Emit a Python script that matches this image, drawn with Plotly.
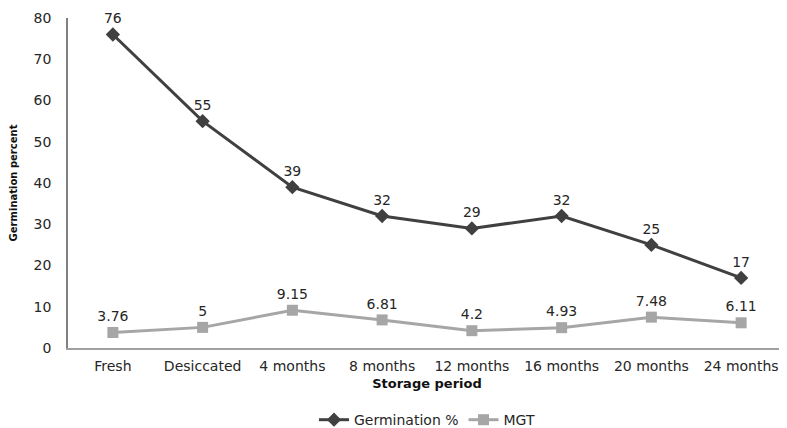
import plotly.graph_objects as go

categories = ["Fresh", "Desiccated", "4 months", "8 months", "12 months", "16 months", "20 months", "24 months"]
germination = [76, 55, 39, 32, 29, 32, 25, 17]
mgt = [3.76, 5, 9.15, 6.81, 4.2, 4.93, 7.48, 6.11]
germ_labels = ["76", "55", "39", "32", "29", "32", "25", "17"]
mgt_labels = ["3.76", "5", "9.15", "6.81", "4.2", "4.93", "7.48", "6.11"]

FONT = "DejaVu Sans"
TXT = "#262626"

fig = go.Figure()
fig.add_trace(go.Scatter(
    x=categories, y=germination, name="Germination %",
    mode="lines+markers+text", text=germ_labels, textposition="top center",
    textfont=dict(family=FONT, size=14, color=TXT), cliponaxis=False,
    line=dict(color="#404040", width=3),
    marker=dict(symbol="diamond", size=11, color="#404040"),
))
fig.add_trace(go.Scatter(
    x=categories, y=mgt, name="MGT",
    mode="lines+markers+text", text=mgt_labels, textposition="top center",
    textfont=dict(family=FONT, size=14, color=TXT), cliponaxis=False,
    line=dict(color="#A6A6A6", width=3),
    marker=dict(symbol="square", size=11, color="#A6A6A6"),
))

fig.update_layout(
    width=779, height=420,
    margin=dict(l=60, r=1, t=10, b=80, autoexpand=False),
    plot_bgcolor="white", paper_bgcolor="white",
    font=dict(family=FONT, size=14, color=TXT),
    showlegend=True,
    legend=dict(orientation="h", x=0.5, xanchor="center", y=-0.17, yanchor="top",
                font=dict(family=FONT, size=14, color=TXT)),
    xaxis=dict(
        type="category", range=[-0.5, 7.5], showgrid=False,
        showline=True, linecolor="#A0A0A0", linewidth=1.5,
        ticks="", ticklabelstandoff=4, tickfont=dict(family=FONT, size=14, color=TXT),
        title=dict(text="<b>Storage period</b>", font=dict(family=FONT, size=13, color="#111111"), standoff=6),
    ),
    yaxis=dict(
        range=[0, 80], dtick=10, showgrid=False, zeroline=False,
        showline=True, linecolor="#808080", linewidth=1.5,
        ticks="", ticklabelstandoff=12, tickfont=dict(family=FONT, size=14, color=TXT),
        title=dict(text="<b>Germination percent</b>", font=dict(family=FONT, size=10, color="#111111"), standoff=16),
    ),
)

fig.write_html("out.html")
